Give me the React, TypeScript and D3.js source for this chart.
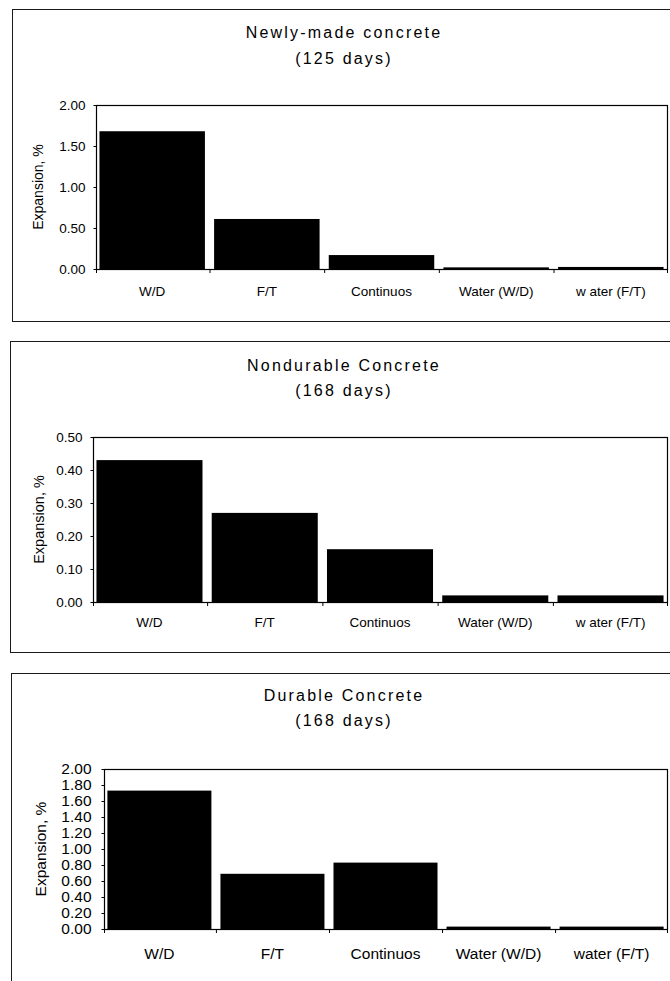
import React, { useRef, useEffect } from "react";
import * as d3 from "d3";

// categories as printed under each chart (first two charts have the split "w ater")
const categoriesTop = ["W/D", "F/T", "Continuos", "Water (W/D)", "w ater (F/T)"];
const categoriesDurable = ["W/D", "F/T", "Continuos", "Water (W/D)", "water (F/T)"];

// expansion, %
const newlyMadeValues = [1.68, 0.61, 0.17, 0.02, 0.025];
const nondurableValues = [0.43, 0.27, 0.16, 0.02, 0.02];
const durableValues = [1.73, 0.69, 0.83, 0.03, 0.03];

// y tick labels
const newlyMadeTicks = [0, 0.5, 1.0, 1.5, 2.0];
const nondurableTicks = [0, 0.1, 0.2, 0.3, 0.4, 0.5];
const durableTicks = [0, 0.2, 0.4, 0.6, 0.8, 1.0, 1.2, 1.4, 1.6, 1.8, 2.0];

const titles = [
    ["Newly-made concrete", "(125 days)"],
    ["Nondurable Concrete", "(168 days)"],
    ["Durable Concrete", "(168 days)"],
];

const FONT = "'Liberation Sans', Arial, Helvetica, sans-serif";

export default function App() {
    const d3Container = useRef<HTMLDivElement>(null);

    useEffect(() => {
        if (d3Container.current) {
            drawCharts();
        }
        return () => {
            if (d3Container.current) d3Container.current.innerHTML = "";
        };
    }, []);

    const drawCharts = () => {
        const width = 670;
        const height = 981;

        const panels = [
            {
                title: titles[0], cats: categoriesTop, values: newlyMadeValues, ticks: newlyMadeTicks, max: 2,
                box: { x: 12, y: 9, w: 680, h: 312 },
                plot: { left: 96, top: 105, right: 667, bottom: 269 },
                titleY: [37.5, 63.5], catY: 296, tickFont: 13.5, catFont: 13.5, yTitleX: 38, yTitleFont: 14, tickPad: 8,
            },
            {
                title: titles[1], cats: categoriesTop, values: nondurableValues, ticks: nondurableTicks, max: 0.5,
                box: { x: 10, y: 341, w: 680, h: 311 },
                plot: { left: 93, top: 437, right: 667, bottom: 602 },
                titleY: [371, 396], catY: 627, tickFont: 13.5, catFont: 13.5, yTitleX: 38.5, yTitleFont: 14.5, tickPad: 8,
            },
            {
                title: titles[2], cats: categoriesDurable, values: durableValues, ticks: durableTicks, max: 2,
                box: { x: 11, y: 673, w: 680, h: 330 },
                plot: { left: 104, top: 769, right: 667, bottom: 929 },
                titleY: [701, 726], catY: 959, tickFont: 15.5, catFont: 15.5, yTitleX: 41, yTitleFont: 15.5, tickPad: 10,
            },
        ];

        const svg = d3.select(d3Container.current)
            .append("svg")
            .attr("width", width)
            .attr("height", height)
            .attr("viewBox", [0, 0, width, height])
            .style("display", "block")
            .style("background", "#fff");

        panels.forEach(p => {
            const g = svg.append("g");

            // outer frame of each chart
            g.append("rect")
                .attr("x", p.box.x + 0.5)
                .attr("y", p.box.y + 0.5)
                .attr("width", p.box.w)
                .attr("height", p.box.h)
                .attr("fill", "none")
                .attr("stroke", "#1a1a1a")
                .attr("stroke-width", 1);

            // title, two lines
            const titleX = 343;
            g.selectAll("text.title")
                .data(p.title)
                .join("text")
                .attr("class", "title")
                .attr("x", titleX + 1)
                .attr("y", (d, i) => p.titleY[i])
                .attr("text-anchor", "middle")
                .attr("font-family", FONT)
                .attr("font-size", 16)
                .attr("letter-spacing", 2.2)
                .attr("fill", "#000")
                .text(d => d);

            const x = d3.scaleBand<string>()
                .domain(p.cats)
                .range([p.plot.left, p.plot.right])
                .paddingInner(0.08)
                .paddingOuter(0.03);

            const y = d3.scaleLinear()
                .domain([0, p.max])
                .range([p.plot.bottom, p.plot.top]);

            // bars
            g.append("g")
                .attr("fill", "#000")
                .selectAll("rect")
                .data(p.values)
                .join("rect")
                .attr("x", (d, i) => x(p.cats[i]) as number)
                .attr("y", d => y(d))
                .attr("width", x.bandwidth())
                .attr("height", d => y(0) - y(d));

            // plot area frame
            g.append("rect")
                .attr("x", p.plot.left + 0.5)
                .attr("y", p.plot.top + 0.5)
                .attr("width", p.plot.right - p.plot.left)
                .attr("height", p.plot.bottom - p.plot.top)
                .attr("fill", "none")
                .attr("stroke", "#000")
                .attr("stroke-width", 1.2);

            // y axis
            const yAxis = d3.axisLeft(y)
                .tickValues(p.ticks)
                .tickFormat(d3.format(".2f"))
                .tickSizeInner(3)
                .tickSizeOuter(0)
                .tickPadding(p.tickPad);

            g.append("g")
                .attr("transform", `translate(${p.plot.left + 0.5},0)`)
                .call(yAxis)
                .call(a => a.select(".domain").remove())
                .call(a => a.selectAll("line").attr("stroke", "#000"))
                .call(a => a.selectAll("text")
                    .attr("font-family", FONT)
                    .attr("font-size", p.tickFont)
                    .attr("fill", "#000"));

            // x axis: small ticks at the category boundaries
            const step = x.step();
            const boundaries = [p.plot.left, ...p.cats.slice(1).map(c => (x(c) as number) - step * 0.04), p.plot.right];
            g.append("g")
                .attr("stroke", "#000")
                .selectAll("line")
                .data(boundaries)
                .join("line")
                .attr("x1", d => d + 0.5)
                .attr("x2", d => d + 0.5)
                .attr("y1", p.plot.bottom)
                .attr("y2", p.plot.bottom + 4);

            g.append("g")
                .selectAll("text")
                .data(p.cats)
                .join("text")
                .attr("x", d => (x(d) as number) + x.bandwidth() / 2)
                .attr("y", p.catY)
                .attr("text-anchor", "middle")
                .attr("font-family", FONT)
                .attr("font-size", p.catFont)
                .attr("fill", "#000")
                .text(d => d);

            // y axis title
            const yMid = (p.plot.top + p.plot.bottom) / 2;
            g.append("text")
                .attr("transform", `translate(${p.yTitleX},${yMid}) rotate(-90)`)
                .attr("text-anchor", "middle")
                .attr("dy", "0.35em")
                .attr("font-family", FONT)
                .attr("font-size", p.yTitleFont)
                .attr("fill", "#000")
                .text("Expansion, %");
        });

        return svg.node();
    };

    return (
        <div
            className="d3-container"
            ref={d3Container}
            style={{ position: "absolute", left: 0, top: 0, width: 670, height: 981, overflow: "hidden" }}
        ></div>
    );
}
